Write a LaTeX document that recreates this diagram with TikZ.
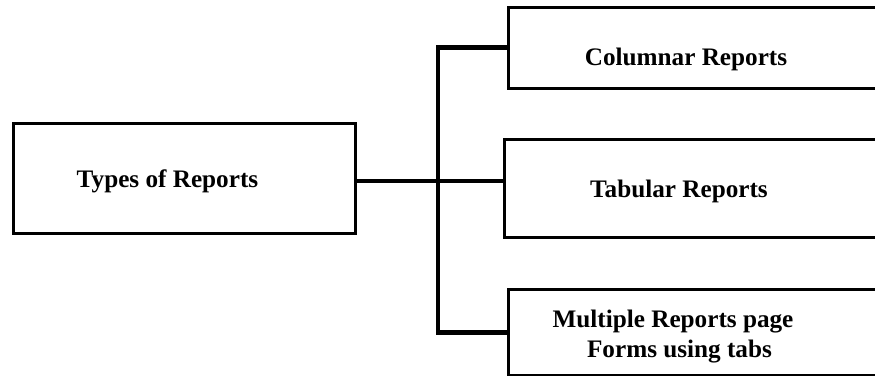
\documentclass[tikz,border=0pt]{standalone}
\usepackage{fontspec}
\setmainfont{Liberation Serif}
\begin{document}
\begin{tikzpicture}[x=1pt,y=-1pt,
  box/.style={draw=black,line width=3pt,rectangle,inner sep=0pt,fill=white},
  lbl/.style={inner sep=0pt,anchor=base,font=\bfseries\fontsize{25.2}{30}\selectfont},
  conn/.style={draw=black,line width=4.5pt,line join=miter}]
\useasboundingbox (0,0) rectangle (875,375);
\clip (0,0) rectangle (875,375);
\fill[white] (0,0) rectangle (875,375);
% boxes
\node[box,minimum width=342pt,minimum height=110pt] (root) at (184,178) {};
\node[box,minimum width=382pt,minimum height=81pt] (col) at (699,47.5) {};
\node[box,minimum width=386pt,minimum height=98pt] (tab) at (697,188) {};
\node[box,minimum width=382pt,minimum height=86.5pt] (mul) at (699,332.25) {};
% texts
\node[lbl] (troot) at (167.5,187) {Types of Reports};
\node[lbl] (tcol) at (686,65) {Columnar Reports};
\node[lbl] (ttab) at (679,197) {Tabular Reports};
\node[lbl] (tmul1) at (673,327) {Multiple Reports page};
\node[lbl] (tmul2) at (679.5,357) {Forms using tabs};
% connectors
\coordinate (j) at (438,181);
\draw[conn] (root.east |- j) -- (tab.west |- j);
\draw[conn] (col.west) -| (j) |- (mul.west);
\end{tikzpicture}
\end{document}
